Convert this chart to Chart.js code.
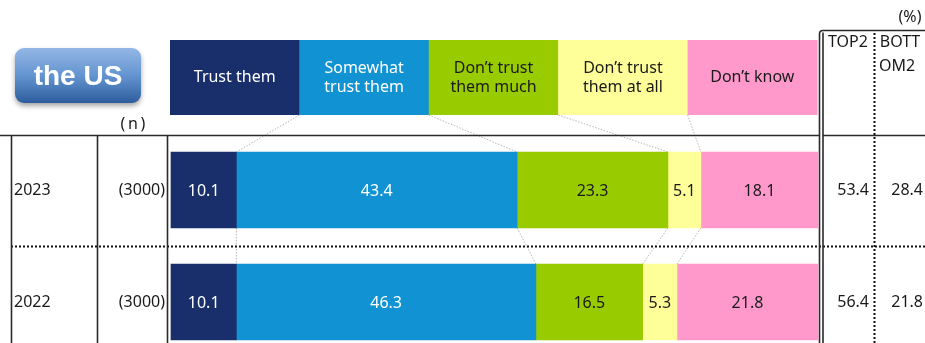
<!DOCTYPE html>
<html>
<head>
<meta charset="utf-8">
<script src="https://cdn.jsdelivr.net/npm/chart.js@4/dist/chart.umd.min.js"></script>
<style>
  html, body { margin: 0; padding: 0; background: #fff; }
  canvas { display: block; }
</style>
</head>
<body>
<canvas id="c" width="925" height="343"></canvas>
<script>
// Survey rows
const years = ['2023', '2022'];
const sampleSizes = ['(3000)', '(3000)'];

// Answer categories (header labels, line-broken)
const categoryLines = [
  ['Trust them'],
  ['Somewhat', 'trust them'],
  ['Don\u2019t trust', 'them much'],
  ['Don\u2019t trust', 'them at all'],
  ['Don\u2019t know']
];

// Shares per category (%), one value per year
const trustThem         = [10.1, 10.1];
const somewhatTrust     = [43.4, 46.3];
const notMuch           = [23.3, 16.5];
const notAtAll          = [5.1, 5.3];
const dontKnow          = [18.1, 21.8];

// Summary columns
const top2    = [53.4, 56.4];
const bottom2 = [28.4, 21.8];

const colors     = ['#182f6b', '#1193d3', '#99cc00', '#ffff99', '#ff99cc'];
const textColors = ['#ffffff', '#ffffff', '#1a1a1a', '#1a1a1a', '#1a1a1a'];
const seriesValues = [trustThem, somewhatTrust, notMuch, notAtAll, dontKnow];

const FONT = '"Noto Sans", "DejaVu Sans", sans-serif';

const tablePlugin = {
  id: 'tableDecor',
  beforeDatasetsDraw(chart) {
    const ctx = chart.ctx;
    const area = chart.chartArea;
    const W = chart.width;
    const H = chart.height;
    ctx.save();

    // --- country badge ---
    const bx = 15, by = 48, bw = 126, bh = 55, r = 9;
    ctx.save();
    ctx.shadowColor = 'rgba(0,0,0,0.35)';
    ctx.shadowBlur = 5;
    ctx.shadowOffsetY = 3;
    const g = ctx.createLinearGradient(0, by, 0, by + bh);
    g.addColorStop(0, '#93b7e6');
    g.addColorStop(0.5, '#6494d0');
    g.addColorStop(1, '#2e5d9e');
    ctx.fillStyle = g;
    ctx.beginPath();
    ctx.roundRect(bx, by, bw, bh, r);
    ctx.fill();
    ctx.restore();
    ctx.fillStyle = '#ffffff';
    ctx.font = 'bold 28px "Liberation Sans", Arial, sans-serif';
    ctx.textAlign = 'center';
    ctx.textBaseline = 'middle';
    ctx.fillText('the US', bx + bw / 2, by + bh / 2 + 2);

    // --- category header boxes ---
    const hTop = 40, hBot = 115;
    const hw = (area.right - area.left) / categoryLines.length;
    const hx0 = area.left - 1;
    categoryLines.forEach((lines, i) => {
      const x = hx0 + i * hw;
      ctx.fillStyle = colors[i];
      ctx.fillRect(x, hTop, hw + 0.5, hBot - hTop);
      ctx.fillStyle = textColors[i];
      ctx.font = '16px ' + FONT;
      const cy = (hTop + hBot) / 2;
      const lh = 19;
      lines.forEach((t, k) => {
        ctx.fillText(t, x + hw / 2, cy + (k - (lines.length - 1) / 2) * lh);
      });
    });

    // --- dotted connectors between header and bars ---
    const metas = seriesValues.map((_, d) => chart.getDatasetMeta(d));
    ctx.strokeStyle = '#b5b5b5';
    ctx.lineWidth = 1;
    ctx.setLineDash([1.5, 1.5]);
    for (let i = 1; i < categoryLines.length; i++) {
      const e0 = metas[i - 1].data[0];
      ctx.beginPath();
      ctx.moveTo(hx0 + i * hw, hBot);
      ctx.lineTo(e0.x, e0.y - e0.height / 2);
      ctx.stroke();
      for (let row = 0; row < years.length - 1; row++) {
        const a = metas[i - 1].data[row];
        const b = metas[i - 1].data[row + 1];
        ctx.beginPath();
        ctx.moveTo(a.x, a.y + a.height / 2);
        ctx.lineTo(b.x, b.y - b.height / 2);
        ctx.stroke();
      }
    }

    // --- table rules ---
    ctx.setLineDash([2, 2]);
    ctx.strokeStyle = '#111';
    ctx.lineWidth = 2;
    const rowMid = (chart.scales.y.getPixelForValue(0) + chart.scales.y.getPixelForValue(1)) / 2;
    ctx.beginPath();
    ctx.moveTo(11, Math.round(rowMid) + 0.5);
    ctx.lineTo(W, Math.round(rowMid) + 0.5);
    ctx.stroke();
    ctx.beginPath();
    ctx.moveTo(874.5, 33);
    ctx.lineTo(874.5, H);
    ctx.stroke();

    ctx.setLineDash([]);
    ctx.strokeStyle = '#2a2a2a';
    ctx.lineWidth = 1.6;
    ctx.beginPath();
    ctx.moveTo(0, 135.5); ctx.lineTo(819, 135.5);
    ctx.moveTo(823, 135.5); ctx.lineTo(W, 135.5);
    [11, 97, 167].forEach(x => { ctx.moveTo(x + 0.5, 135.5); ctx.lineTo(x + 0.5, H); });
    ctx.stroke();
    ctx.beginPath();
    ctx.moveTo(819.5, H);
    ctx.lineTo(819.5, 34);
    ctx.quadraticCurveTo(819.5, 30.5, 823, 30.5);
    ctx.lineTo(W, 30.5);
    ctx.moveTo(823, H);
    ctx.lineTo(823, 32.5);
    ctx.stroke();

    // --- row labels and summary values ---
    ctx.fillStyle = '#1a1a1a';
    ctx.font = '16px ' + FONT;
    ctx.textBaseline = 'middle';
    years.forEach((yr, i) => {
      const y = chart.scales.y.getPixelForValue(i);
      ctx.textAlign = 'left';
      ctx.fillText(yr, 14, y);
      ctx.textAlign = 'right';
      ctx.fillText(sampleSizes[i], 165, y);
      ctx.fillText(top2[i].toFixed(1), 869, y);
      ctx.fillText(bottom2[i].toFixed(1), 923, y);
    });

    // --- column headings ---
    ctx.textAlign = 'center';
    ctx.fillText('TOP2', 848, 42);
    ctx.fillText('BOTT', 900, 42);
    ctx.fillText('OM2', 897, 66);
    ctx.fillText('(%)', 910, 17);
    // sample-size heading, set with wide spacing
    ctx.fillText('(', 123, 124);
    ctx.fillText('n', 133, 124);
    ctx.fillText(')', 143, 124);

    ctx.restore();
  },
  afterDatasetsDraw(chart) {
    const ctx = chart.ctx;
    ctx.save();
    ctx.font = '16px ' + FONT;
    ctx.textAlign = 'center';
    ctx.textBaseline = 'middle';
    chart.data.datasets.forEach((ds, d) => {
      chart.getDatasetMeta(d).data.forEach((el, i) => {
        ctx.fillStyle = textColors[d];
        ctx.fillText(ds.data[i].toFixed(1), (el.x + el.base) / 2, el.y + 1);
      });
    });
    ctx.restore();
  }
};

new Chart(document.getElementById('c'), {
  type: 'bar',
  data: {
    labels: years,
    datasets: seriesValues.map((vals, i) => ({
      label: categoryLines[i].join(' '),
      data: vals,
      backgroundColor: colors[i],
      borderWidth: 0,
      barThickness: 76,
      clip: false
    }))
  },
  options: {
    indexAxis: 'y',
    responsive: false,
    animation: false,
    layout: { padding: { left: 171, right: 107, top: 190, bottom: 41 } },
    plugins: { legend: { display: false }, tooltip: { enabled: false } },
    scales: {
      x: { stacked: true, min: 0, max: 100, display: false },
      y: { stacked: true, display: false, offset: false }
    }
  },
  plugins: [tablePlugin]
});
</script>
</body>
</html>
